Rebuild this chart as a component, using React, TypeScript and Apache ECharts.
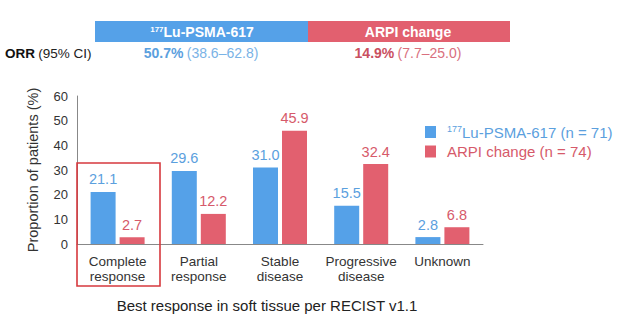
import React, { useEffect, useRef } from "react";
import * as echarts from "echarts";

const categories = ["Complete\nresponse", "Partial\nresponse", "Stable\ndisease", "Progressive\ndisease", "Unknown"];
const luValues = [21.1, 29.6, 31.0, 15.5, 2.8];
const arpiValues = [2.7, 12.2, 45.9, 32.4, 6.8];
const yTicks = { min: 0, max: 60, interval: 10 };
const luName = "177Lu-PSMA-617 (n = 71)";
const arpiName = "ARPI change (n = 74)";

const BLUE = "#55a1e8";
const RED = "#e2606f";
const BLUE_TXT = "#5ba0de";
const RED_TXT = "#d65a6a";
const FONT = "Liberation Sans, Arial, sans-serif";

export default function App() {
  const ref = useRef<HTMLDivElement>(null);
  useEffect(() => {
    const chart = echarts.init(ref.current!, null, { renderer: "svg" });
    chart.setOption({
      animation: false,
      textStyle: { fontFamily: FONT },
      grid: { left: 77, right: 136, top: 96, bottom: 79 },
      legend: {
        orient: "vertical",
        left: 425,
        top: 124,
        padding: 0,
        itemWidth: 11,
        itemHeight: 12,
        itemGap: 4,
        icon: "rect",
        data: [{ name: luName }, { name: arpiName }],
        formatter: (n: string) =>
          n === luName ? "{sb|177}{tb|Lu-PSMA-617 (n = 71)}" : "{tr|ARPI change (n = 74)}",
        textStyle: {
          fontFamily: FONT,
          padding: [0, 0, 0, 6],
          rich: {
            sb: { fontSize: 9, color: BLUE_TXT, padding: [0, 0, 7, 0], fontFamily: FONT, lineHeight: 17 },
            tb: { fontSize: 15, color: BLUE_TXT, fontFamily: FONT, lineHeight: 17 },
            tr: { fontSize: 15, color: RED_TXT, fontFamily: FONT, lineHeight: 17 },
          },
        },
      },
      xAxis: {
        type: "category",
        data: categories,
        name: "Best response in soft tissue per RECIST v1.1",
        nameLocation: "middle",
        nameGap: 54,
        nameTextStyle: { fontSize: 15, color: "#222", fontFamily: FONT, padding: [0, 26, 0, 0] },
        axisLine: { lineStyle: { color: "#888", width: 1 } },
        axisTick: { show: false },
        axisLabel: { fontSize: 13.5, color: "#333", lineHeight: 15, margin: 10, interval: 0, fontFamily: FONT },
      },
      yAxis: {
        type: "value",
        min: yTicks.min,
        max: yTicks.max,
        interval: yTicks.interval,
        name: "Proportion of patients (%)",
        nameLocation: "middle",
        nameGap: 37,
        nameTextStyle: { fontSize: 14.5, color: "#333", fontFamily: FONT },
        axisLine: { show: true, lineStyle: { color: "#888", width: 1 } },
        axisTick: { show: false },
        splitLine: { show: false },
        axisLabel: { fontSize: 13, color: "#333", margin: 9, fontFamily: FONT },
      },
      series: [
        {
          name: luName,
          type: "bar",
          data: luValues,
          barWidth: 25,
          barGap: "16%",
          itemStyle: { color: BLUE },
          label: { show: true, position: "top", fontSize: 14.5, color: BLUE_TXT, distance: 5, formatter: (p: any) => p.value.toFixed(1), fontFamily: FONT },
        },
        {
          name: arpiName,
          type: "bar",
          data: arpiValues,
          barWidth: 25,
          itemStyle: { color: RED },
          label: { show: true, position: "top", fontSize: 14.5, color: RED_TXT, distance: 5, formatter: (p: any) => p.value.toFixed(1), fontFamily: FONT },
        },
      ],
      graphic: [
        { type: "rect", shape: { x: 95, y: 21, width: 213, height: 21 }, style: { fill: BLUE } },
        { type: "rect", shape: { x: 308, y: 21, width: 202, height: 21 }, style: { fill: RED } },
        {
          type: "text",
          x: 202,
          y: 32,
          style: {
            text: "{s|177}{t|Lu-PSMA-617}",
            align: "center",
            verticalAlign: "middle",
            rich: {
              s: { fontSize: 8, fill: "#fff", fontWeight: "bold", padding: [0, 0, 6, 0], fontFamily: FONT },
              t: { fontSize: 14, fill: "#fff", fontWeight: "bold", fontFamily: FONT },
            },
          },
        },
        {
          type: "text",
          x: 408,
          y: 32,
          style: { text: "ARPI change", align: "center", verticalAlign: "middle", fontSize: 14, fontWeight: "bold", fill: "#fff", fontFamily: FONT },
        },
        {
          type: "text",
          x: 5,
          y: 53,
          style: {
            text: "{b|ORR} {n|(95% CI)}",
            verticalAlign: "middle",
            rich: {
              b: { fontSize: 13.5, fontWeight: "bold", fill: "#111", fontFamily: FONT },
              n: { fontSize: 13.5, fill: "#222", fontFamily: FONT },
            },
          },
        },
        {
          type: "text",
          x: 201,
          y: 53,
          style: {
            text: "{b|50.7%} {n|(38.6–62.8)}",
            align: "center",
            verticalAlign: "middle",
            rich: {
              b: { fontSize: 14, fontWeight: "bold", fill: BLUE_TXT, fontFamily: FONT },
              n: { fontSize: 14, fill: "#7ab3e6", fontFamily: FONT },
            },
          },
        },
        {
          type: "text",
          x: 408,
          y: 53,
          style: {
            text: "{b|14.9%} {n|(7.7–25.0)}",
            align: "center",
            verticalAlign: "middle",
            rich: {
              b: { fontSize: 14, fontWeight: "bold", fill: "#c9505f", fontFamily: FONT },
              n: { fontSize: 14, fill: "#d9707e", fontFamily: FONT },
            },
          },
        },
        {
          type: "rect",
          shape: { x: 77, y: 163, width: 83, height: 123 },
          style: { fill: "none", stroke: "#d6393e", lineWidth: 1.6 },
          z: 100,
        },
      ],
    });
    return () => chart.dispose();
  }, []);
  return <div ref={ref} style={{ width: 619, height: 323, position: "absolute", left: 0, top: 0, background: "#fff" }} />;
}
